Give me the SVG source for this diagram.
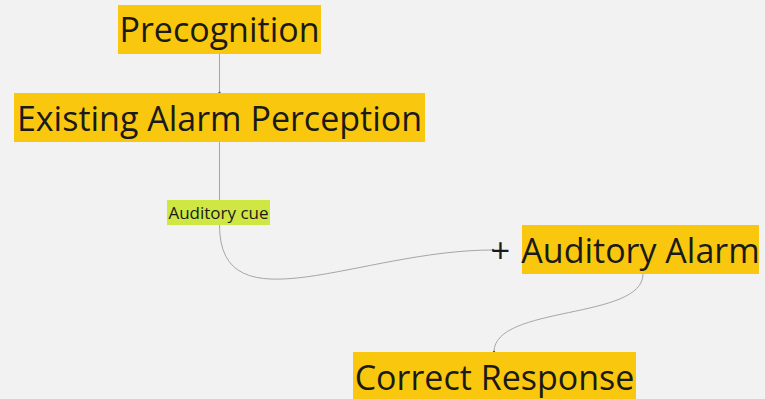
<svg xmlns="http://www.w3.org/2000/svg" width="765" height="399" viewBox="0 0 765 399">
<defs>
<style>
.box{fill:#f9c80e;}
.lbl{fill:#cfe743;}
.t{font-family:"Open Sans","Liberation Sans",sans-serif;fill:#1a1a1a;text-anchor:middle;}
.big{font-size:34px;}
.small{font-size:17px;}
.c{fill:none;stroke:#a6a6a6;stroke-width:1;}
</style>
<marker id="dot" viewBox="0 0 4 4" refX="2" refY="2" markerWidth="4" markerHeight="4" markerUnits="userSpaceOnUse">
<circle cx="2" cy="2" r="1.2" fill="#555"/>
</marker>
</defs>
<rect width="765" height="399" fill="#f2f2f2"/>
<g id="connectors">
<path class="c" d="M219.5,54 L219.5,93" marker-end="url(#dot)"/>
<path class="c" d="M219.5,142 L219.5,200"/>
<path class="c" d="M219.5,225 C219.5,330 360,250 493,250" marker-end="url(#dot)"/>
<path class="c" d="M643,274 C643,320 494,305 494,352" marker-end="url(#dot)"/>
</g>
<g id="precognition">
<rect class="box" x="118" y="5" width="203" height="49"/>
<text class="t big" x="219.5" y="42">Precognition</text>
</g>
<g id="existing">
<rect class="box" x="14" y="93" width="411" height="49"/>
<text class="t big" x="219.5" y="131">Existing Alarm Perception</text>
</g>
<g id="auditory-cue">
<rect class="lbl" x="167" y="200" width="103" height="25"/>
<text class="t small" x="218.5" y="219">Auditory cue</text>
</g>
<g id="plus">
<text class="t big" x="500.5" y="263">+</text>
</g>
<g id="auditory-alarm">
<rect class="box" x="522" y="225" width="237" height="49"/>
<text class="t big" x="640.5" y="263">Auditory Alarm</text>
</g>
<g id="correct-response">
<rect class="box" x="353" y="352" width="283" height="49"/>
<text class="t big" x="494.5" y="390">Correct Response</text>
</g>
</svg>
